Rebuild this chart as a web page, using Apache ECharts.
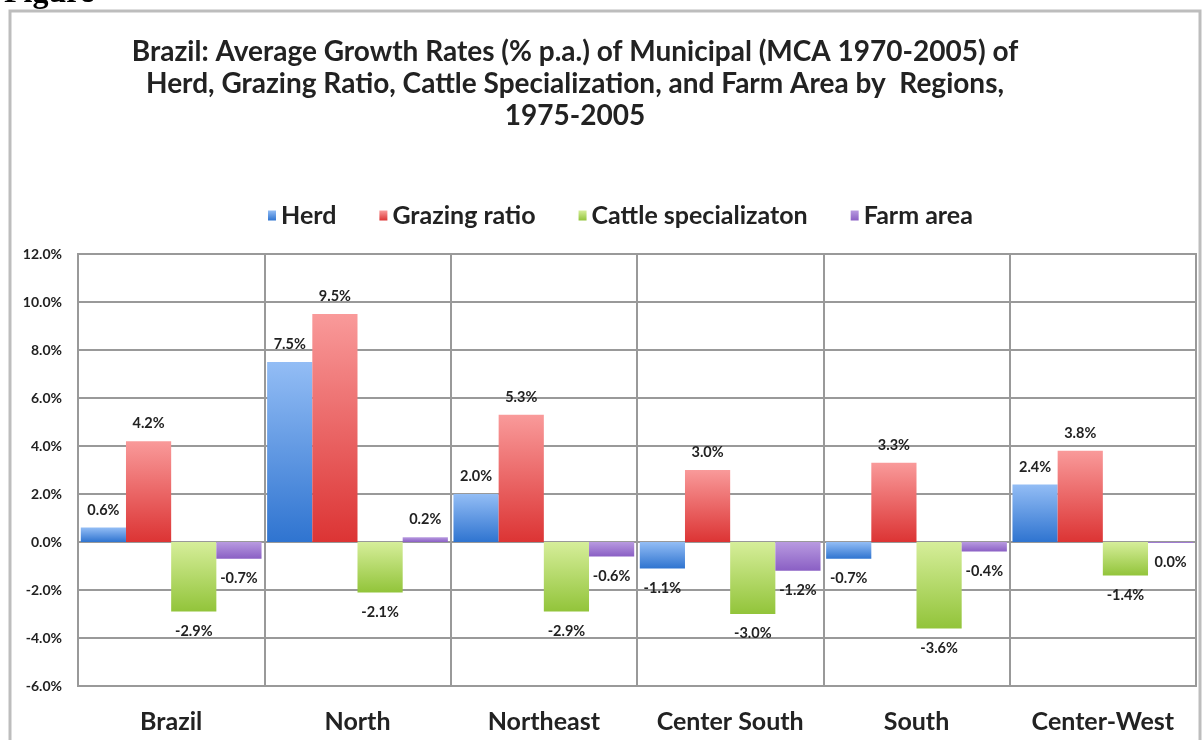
<!DOCTYPE html>
<html>
<head>
<meta charset="utf-8">
<script src="https://cdn.jsdelivr.net/npm/echarts@6/dist/echarts.min.js"></script>
<style>
html,body{margin:0;padding:0;background:#fff;}
#chart{width:1203px;height:740px;}
</style>
</head>
<body>
<div id="chart"></div>
<script>
const categories = ['Brazil', 'North', 'Northeast', 'Center South', 'South', 'Center-West'];
const seriesNames = ['Herd', 'Grazing ratio', 'Cattle specializaton', 'Farm area'];
const herd = [0.6, 7.5, 2.0, -1.1, -0.7, 2.4];
const grazing = [4.2, 9.5, 5.3, 3.0, 3.3, 3.8];
const cattle = [-2.9, -2.1, -2.9, -3.0, -3.6, -1.4];
const farm = [-0.7, 0.2, -0.6, -1.2, -0.4, -0.04];
const yTicks = { min: -6, max: 12, interval: 2 };
const titleLines = [
  'Brazil: Average Growth Rates (% p.a.) of Municipal (MCA 1970-2005) of',
  'Herd, Grazing Ratio, Cattle Specialization, and Farm Area by  Regions,',
  '1975-2005'
];

const colors = [
  ['#93bdf5', '#2f74d0'],
  ['#f99a9a', '#dc3434'],
  ['#d6ee9a', '#92c43a'],
  ['#b89ae0', '#8a5fc4']
];
const FONT = 'Lato';

function grad(c) {
  return new echarts.graphic.LinearGradient(0, 0, 0, 1, [
    { offset: 0, color: c[0] }, { offset: 1, color: c[1] }
  ]);
}
function fmt(v) {
  return (Math.round(v * 10) / 10).toFixed(1) + '%';
}
function makeSeries(name, arr, idx) {
  return {
    name: name,
    type: 'bar',
    barGap: '0%',
    barCategoryGap: '3%',
    itemStyle: { color: grad(colors[idx]) },
    data: arr.map(v => ({
      value: v,
      label: {
        show: true,
        position: v >= 0 ? 'top' : 'bottom',
        distance: v >= 0 ? 10 : 12,
        formatter: p => fmt(p.value),
        fontFamily: FONT,
        fontWeight: 'bold',
        fontSize: 14.5,
        color: '#222'
      }
    }))
  };
}

const chart = echarts.init(document.getElementById('chart'), null, { renderer: 'canvas' });
chart.setOption({
  backgroundColor: '#fff',
  animation: false,
  color: colors.map(c => c[1]),
  graphic: [
    { type: 'rect', shape: { x: 10, y: 11, width: 1190, height: 740 },
      style: { fill: 'none', stroke: '#bdbdbd', lineWidth: 3 } },
    { type: 'text', x: 4, y: -22,
      style: { text: 'Figure', font: 'bold 32px "Liberation Serif"', fill: '#000' } },
    { type: 'text', x: 575, y: 36,
      style: { text: titleLines.join('\n'), font: 'bold 28px ' + FONT, fill: '#222',
        textAlign: 'center', lineHeight: 32 } }
  ],
  legend: {
    data: seriesNames,
    top: 198,
    left: 263,
    itemWidth: 8,
    itemHeight: 10,
    itemGap: 43,
    icon: 'rect',
    textStyle: { fontFamily: FONT, fontWeight: 'bold', fontSize: 25, color: '#222' }
  },
  grid: {
    left: 78, right: 7, top: 254, bottom: 54,
    show: true, borderColor: '#999', borderWidth: 2, containLabel: false
  },
  xAxis: {
    type: 'category',
    data: categories,
    axisLine: { show: false },
    axisTick: { show: false },
    splitLine: { show: true, interval: 0, lineStyle: { color: '#999', width: 2 } },
    axisLabel: { interval: 0, fontFamily: FONT, fontWeight: 'bold', fontSize: 25, color: '#222', margin: 23 }
  },
  yAxis: {
    type: 'value',
    min: yTicks.min, max: yTicks.max, interval: yTicks.interval,
    axisLine: { show: false },
    axisTick: { show: false },
    splitLine: { show: true, lineStyle: { color: '#999', width: 2 } },
    axisLabel: { fontFamily: FONT, fontWeight: 'bold', fontSize: 14, color: '#222', margin: 16,
      formatter: v => v.toFixed(1) + '%' }
  },
  series: [
    makeSeries(seriesNames[0], herd, 0),
    makeSeries(seriesNames[1], grazing, 1),
    makeSeries(seriesNames[2], cattle, 2),
    makeSeries(seriesNames[3], farm, 3)
  ]
});
</script>
</body>
</html>
